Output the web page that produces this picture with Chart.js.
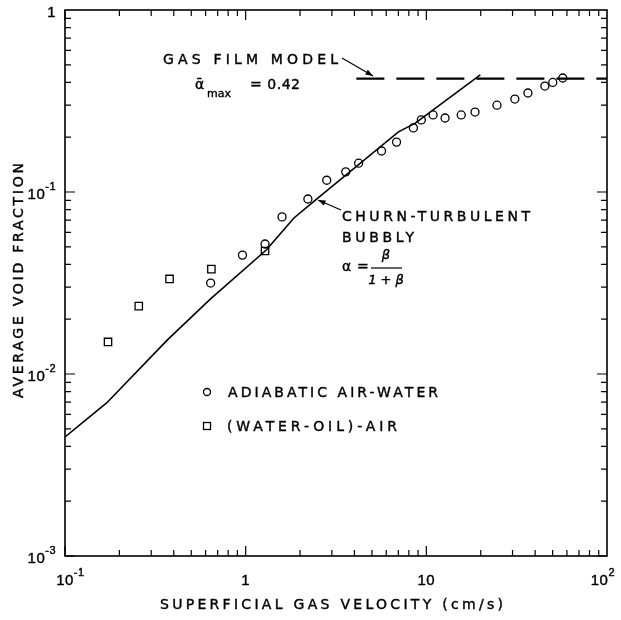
<!DOCTYPE html>
<html>
<head>
<meta charset="utf-8">
<script src="https://cdn.jsdelivr.net/npm/chart.js@4"></script>
<style>
body { margin: 0; background: #fff; }
</style>
</head>
<body>
<canvas id="chart" width="621" height="620"></canvas>
<script>
/* DATA */
const airWaterX = [0.64, 0.96, 1.28, 1.59, 2.21, 2.81, 3.58, 4.22, 5.65, 6.84, 8.48, 9.38, 10.9, 12.7, 15.6, 18.6, 24.6, 30.9, 36.5, 45.3, 50.1, 56.9];
const airWaterY = [0.0316, 0.045, 0.0518, 0.073, 0.0915, 0.116, 0.129, 0.144, 0.168, 0.188, 0.225, 0.249, 0.265, 0.255, 0.265, 0.275, 0.30, 0.324, 0.35, 0.382, 0.40, 0.423];

const oilAirX = [0.173, 0.256, 0.379, 0.646, 1.28];
const oilAirY = [0.015, 0.0236, 0.0333, 0.0377, 0.0474];

const churnX = [0.1, 0.17, 0.369, 0.637, 1.30, 1.85, 2.44, 7.01, 8.69, 19.9];
const churnY = [0.00451, 0.00693, 0.0154, 0.0258, 0.048, 0.072, 0.0904, 0.214, 0.239, 0.44];

const filmX = [4.1, 100];
const filmY = [0.42, 0.42];

/* tick labels: base + exponent */
const xDecades = [0.1, 1, 10, 100];
const xTickBase = ["10", "1", "10", "10"];
const xTickExp = ["-1", "", "", "2"];
const yDecades = [0.001, 0.01, 0.1, 1];
const yTickBase = ["10", "10", "10", "1"];
const yTickExp = ["-3", "-2", "-1", ""];

const FONT = "'DejaVu Sans', sans-serif";
const NUM = "'Liberation Sans', sans-serif";
const pts = (xs, ys) => xs.map((x, i) => ({ x: x, y: ys[i] }));

function ink(ctx, str, x, y) {
ctx.fillText(str, x, y);
ctx.strokeText(str, x, y);
}

/* text stretched to a given width, like the stencil lettering */
function spaced(ctx, str, x, y, w) {
ctx.letterSpacing = "0px";
const base = ctx.measureText(str).width;
const ls = Math.max(0, (w - base) / (str.length - 1));
ctx.letterSpacing = ls + "px";
ctx.textAlign = "left";
ink(ctx, str, x, y);
ctx.letterSpacing = "0px";
}

function arrow(ctx, x0, y0, x1, y1) {
ctx.beginPath();
ctx.moveTo(x0, y0);
ctx.lineTo(x1, y1);
ctx.stroke();
const a = Math.atan2(y1 - y0, x1 - x0);
ctx.beginPath();
ctx.moveTo(x1, y1);
ctx.lineTo(x1 - 8 * Math.cos(a - 0.35), y1 - 8 * Math.sin(a - 0.35));
ctx.lineTo(x1 - 8 * Math.cos(a + 0.35), y1 - 8 * Math.sin(a + 0.35));
ctx.closePath();
ctx.fill();
}

/* base with raised exponent; x is centre of base (align c) or right edge (align r) */
function power(ctx, base, exp, x, y, align, maxRight) {
ctx.font = "15px " + NUM;
ctx.letterSpacing = "0.5px";
const bw = ctx.measureText(base).width;
ctx.font = "11px " + NUM;
const ew = exp ? ctx.measureText(exp).width : 0;
let left = align === "c" ? x - bw / 2 : x - bw - ew;
if (maxRight) left = Math.min(left, maxRight - bw - ew);
ctx.textAlign = "left";
ctx.font = "15px " + NUM;
ink(ctx, base, left, y);
if (exp) {
ctx.font = "11px " + NUM;
ink(ctx, exp, left + bw, y - 8);
}
ctx.letterSpacing = "0px";
}

/* FRAME, INWARD TICKS, LABELS, ANNOTATIONS */
const decor = {
id: "decor",
afterDatasetsDraw(chart) {
const { ctx, chartArea: a, scales } = chart;
const sx = scales.x, sy = scales.y;
ctx.save();
ctx.strokeStyle = "#000";
ctx.fillStyle = "#000";
ctx.lineWidth = 1.6;
ctx.strokeRect(a.left, a.top, a.right - a.left, a.bottom - a.top);

ctx.lineWidth = 1.2;
ctx.beginPath();
for (let e = -1; e <= 1; e++) {
for (let m = 1; m <= 9; m++) {
const len = m === 1 ? 10 : 6;
const px = sx.getPixelForValue(m * Math.pow(10, e));
ctx.moveTo(px, a.bottom); ctx.lineTo(px, a.bottom - len);
ctx.moveTo(px, a.top); ctx.lineTo(px, a.top + len);
}
}
for (let e = -3; e <= -1; e++) {
for (let m = 1; m <= 9; m++) {
const len = m === 1 ? 10 : 6;
const py = sy.getPixelForValue(m * Math.pow(10, e));
ctx.moveTo(a.left, py); ctx.lineTo(a.left + len, py);
ctx.moveTo(a.right, py); ctx.lineTo(a.right - len, py);
}
}
ctx.stroke();

ctx.textBaseline = "middle";
ctx.lineWidth = 0.4;

/* tick labels */
xDecades.forEach((v, i) => {
power(ctx, xTickBase[i], xTickExp[i], sx.getPixelForValue(v), a.bottom + 25, "c", 615);
});
yDecades.forEach((v, i) => {
power(ctx, yTickBase[i], yTickExp[i], a.left - 9, sy.getPixelForValue(v) + 3, "r");
});

ctx.font = "14px " + FONT;

/* axis titles */
spaced(ctx, "SUPERFICIAL GAS VELOCITY (cm/s)", 160, 605, 343);
ctx.save();
ctx.translate(19, 398);
ctx.rotate(-Math.PI / 2);
spaced(ctx, "AVERAGE VOID FRACTION", 0, 0, 235);
ctx.restore();

/* gas film model note */
spaced(ctx, "GAS FILM MODEL", 163, 60, 175);
ink(ctx, "ᾱ", 195, 85);
ctx.font = "11px " + FONT;
ink(ctx, "max", 207, 94);
ctx.font = "14px " + FONT;
spaced(ctx, "= 0.42", 250, 85, 50);
ctx.lineWidth = 1.2;
arrow(ctx, 342, 58, 373, 76);

/* churn-turbulent note */
ctx.lineWidth = 0.4;
spaced(ctx, "CHURN-TURBULENT", 342, 217, 188);
spaced(ctx, "BUBBLY", 342, 238, 72);
ink(ctx, "α", 342, 267);
ink(ctx, "=", 357, 267);
ctx.textAlign = "center";
ctx.font = "italic 13px " + FONT;
ink(ctx, "β", 386, 256);
ink(ctx, "1 + β", 386, 281);
ctx.lineWidth = 1.2;
ctx.beginPath();
ctx.moveTo(371, 268); ctx.lineTo(402, 268);
ctx.stroke();
arrow(ctx, 341, 210, 318, 200);

/* in-plot key */
ctx.lineWidth = 1.3;
ctx.beginPath();
ctx.arc(207, 392, 3.5, 0, 2 * Math.PI);
ctx.stroke();
ctx.strokeRect(203.5, 422.5, 7, 7);
ctx.font = "14px " + FONT;
ctx.lineWidth = 0.4;
spaced(ctx, "ADIABATIC AIR-WATER", 228, 393, 210);
spaced(ctx, "(WATER-OIL)-AIR", 227, 427, 170);
ctx.restore();
}
};

new Chart(document.getElementById("chart"), {
type: "scatter",
data: {
datasets: [
{
data: pts(churnX, churnY),
showLine: true,
borderColor: "#000",
borderWidth: 1.6,
pointRadius: 0
},
{
data: pts(filmX, filmY),
showLine: true,
borderColor: "#000",
borderWidth: 2.2,
borderDash: [28, 12],
pointRadius: 0
},
{
data: pts(airWaterX, airWaterY),
pointStyle: "circle",
pointRadius: 4,
borderColor: "#000",
borderWidth: 1.3,
backgroundColor: "rgba(0,0,0,0)"
},
{
data: pts(oilAirX, oilAirY),
pointStyle: "rect",
pointRadius: 5.2,
borderColor: "#000",
borderWidth: 1.3,
backgroundColor: "rgba(0,0,0,0)"
}
]
},
options: {
responsive: false,
animation: false,
layout: { padding: { left: 0, right: 14, top: 10, bottom: 0 } },
plugins: { legend: { display: false }, tooltip: { enabled: false } },
scales: {
x: {
type: "logarithmic",
min: 0.1,
max: 100,
grid: { display: false, drawTicks: false },
border: { display: false },
ticks: { display: false },
afterFit: (s) => { s.height = 64; }
},
y: {
type: "logarithmic",
min: 0.001,
max: 1,
grid: { display: false, drawTicks: false },
border: { display: false },
ticks: { display: false },
afterFit: (s) => { s.width = 65; }
}
}
},
plugins: [decor]
});
</script>
</body>
</html>
